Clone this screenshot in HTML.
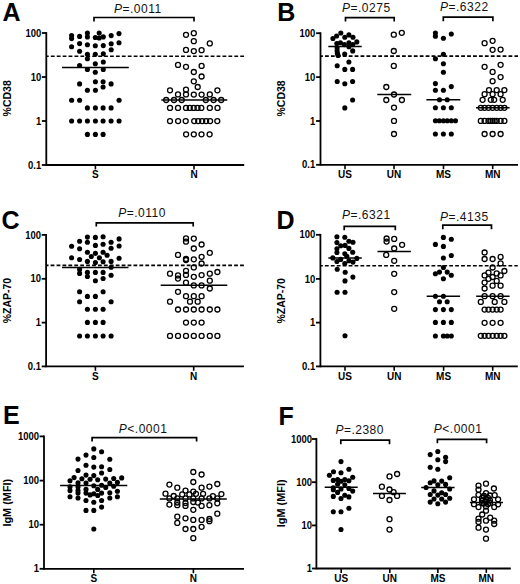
<!DOCTYPE html>
<html><head><meta charset="utf-8"><title>Figure</title>
<style>
html,body{margin:0;padding:0;background:#fff;}
body{width:520px;height:584px;overflow:hidden;}
svg{display:block;}
text{font-family:"Liberation Sans",sans-serif;fill:#000;}
.tk{font-size:10.2px;font-weight:bold;}
.cat{font-size:10px;font-weight:bold;}
.yt{font-size:10.5px;font-weight:bold;}
.lt{font-size:25px;font-weight:bold;}
.pv{font-size:12px;fill:#111;letter-spacing:0.5px;}
line,path{stroke:#000;}
circle{fill:#000;}
circle.o{fill:none;stroke:#000;stroke-width:1.3px;}
</style></head>
<body>
<svg width="520" height="584" viewBox="0 0 520 584">
<rect width="520" height="584" fill="#fff"/>
<line x1="46.3" y1="32.1" x2="46.3" y2="165.9" stroke-width="1.8"/>
<line x1="46.3" y1="165" x2="244.2" y2="165" stroke-width="1.8"/>
<line x1="41.9" y1="33" x2="46.3" y2="33" stroke-width="1.8"/>
<text class="tk" text-anchor="end" transform="translate(41.2,36.6) scale(0.93,1)">100</text>
<line x1="41.9" y1="77" x2="46.3" y2="77" stroke-width="1.8"/>
<text class="tk" text-anchor="end" transform="translate(41.2,80.6) scale(0.93,1)">10</text>
<line x1="41.9" y1="121" x2="46.3" y2="121" stroke-width="1.8"/>
<text class="tk" text-anchor="end" transform="translate(41.2,124.6) scale(0.93,1)">1</text>
<line x1="41.9" y1="165" x2="46.3" y2="165" stroke-width="1.8"/>
<text class="tk" text-anchor="end" transform="translate(41.2,168.6) scale(0.93,1)">0.1</text>
<line x1="95.4" y1="165" x2="95.4" y2="169.4" stroke-width="1.6"/>
<text x="95.4" y="178.2" class="cat" text-anchor="middle">S</text>
<line x1="194" y1="165" x2="194" y2="169.4" stroke-width="1.6"/>
<text x="194" y="178.2" class="cat" text-anchor="middle">N</text>
<text class="yt" text-anchor="middle" transform="translate(11.1,98.3) rotate(-90)">%CD38</text>
<text x="2.6" y="20.9" class="lt">A</text>
<line x1="46.3" y1="56.3" x2="244.2" y2="56.3" stroke-width="1.6" stroke-dasharray="3.8 2.12" stroke-dashoffset="1.4"/>
<path d="M94,21.6V17.5H194V21.6" fill="none" stroke-width="1.7"/>
<text x="114" y="12.8" class="pv"><tspan font-style="italic">P</tspan>=.0011</text>
<circle cx="71.6" cy="35.6" r="2.55"/>
<circle cx="71.6" cy="38.6" r="2.55"/>
<circle cx="71.6" cy="46.7" r="2.55"/>
<circle cx="79.6" cy="36.4" r="2.55"/>
<circle cx="79.6" cy="43.6" r="2.55"/>
<circle cx="79.6" cy="51.3" r="2.55"/>
<circle cx="79.6" cy="65.5" r="2.55"/>
<circle cx="87.4" cy="33" r="2.55"/>
<circle cx="87.4" cy="36.9" r="2.55"/>
<circle cx="87.4" cy="44.7" r="2.55"/>
<circle cx="87.4" cy="54.3" r="2.55"/>
<circle cx="87.4" cy="58.8" r="2.55"/>
<circle cx="87.4" cy="69.5" r="2.55"/>
<circle cx="95.3" cy="37.5" r="2.55"/>
<circle cx="95.3" cy="45.8" r="2.55"/>
<circle cx="95.3" cy="54.3" r="2.55"/>
<circle cx="95.3" cy="63.7" r="2.55"/>
<circle cx="95.3" cy="72.3" r="2.55"/>
<circle cx="99.2" cy="33" r="2.55"/>
<circle cx="99.2" cy="38" r="2.55"/>
<circle cx="103.3" cy="36.9" r="2.55"/>
<circle cx="103.3" cy="45.6" r="2.55"/>
<circle cx="103.3" cy="53.8" r="2.55"/>
<circle cx="103.3" cy="62" r="2.55"/>
<circle cx="103.3" cy="69.5" r="2.55"/>
<circle cx="111.2" cy="35.6" r="2.55"/>
<circle cx="111.2" cy="43.8" r="2.55"/>
<circle cx="111.2" cy="49.7" r="2.55"/>
<circle cx="119" cy="33.6" r="2.55"/>
<circle cx="119" cy="42.7" r="2.55"/>
<circle cx="79.6" cy="83.9" r="2.55"/>
<circle cx="95.4" cy="81.7" r="2.55"/>
<circle cx="103.1" cy="81.7" r="2.55"/>
<circle cx="111.1" cy="83.9" r="2.55"/>
<circle cx="103.1" cy="87" r="2.55"/>
<circle cx="87.4" cy="90.3" r="2.55"/>
<circle cx="95.4" cy="90.3" r="2.55"/>
<circle cx="71.6" cy="100.2" r="2.55"/>
<circle cx="79.6" cy="100.2" r="2.55"/>
<circle cx="119.1" cy="100.2" r="2.55"/>
<circle cx="87.4" cy="107.9" r="2.55"/>
<circle cx="95.4" cy="107.9" r="2.55"/>
<circle cx="103.1" cy="107.9" r="2.55"/>
<circle cx="111.1" cy="107.9" r="2.55"/>
<circle cx="71.6" cy="121" r="2.55"/>
<circle cx="79.6" cy="121" r="2.55"/>
<circle cx="87.4" cy="121" r="2.55"/>
<circle cx="95.4" cy="121" r="2.55"/>
<circle cx="103.1" cy="121" r="2.55"/>
<circle cx="111.1" cy="121" r="2.55"/>
<circle cx="119.1" cy="121" r="2.55"/>
<circle cx="87.4" cy="134.4" r="2.55"/>
<circle cx="95.4" cy="134.4" r="2.55"/>
<circle cx="103.1" cy="134.4" r="2.55"/>
<circle cx="186" cy="34.8" r="2.5" class="o"/>
<circle cx="193.8" cy="33.2" r="2.5" class="o"/>
<circle cx="193.8" cy="41.2" r="2.5" class="o"/>
<circle cx="209.8" cy="43.4" r="2.5" class="o"/>
<circle cx="186" cy="49.9" r="2.5" class="o"/>
<circle cx="193.8" cy="51.1" r="2.5" class="o"/>
<circle cx="201.6" cy="50.2" r="2.5" class="o"/>
<circle cx="178" cy="64.9" r="2.5" class="o"/>
<circle cx="186" cy="66.8" r="2.5" class="o"/>
<circle cx="201.6" cy="65.9" r="2.5" class="o"/>
<circle cx="193.8" cy="72" r="2.5" class="o"/>
<circle cx="201.6" cy="76.5" r="2.5" class="o"/>
<circle cx="193.8" cy="81.3" r="2.5" class="o"/>
<circle cx="197.7" cy="87" r="2.5" class="o"/>
<circle cx="170" cy="90.3" r="2.5" class="o"/>
<circle cx="186" cy="89.7" r="2.5" class="o"/>
<circle cx="217.4" cy="90.3" r="2.5" class="o"/>
<circle cx="178" cy="94.4" r="2.5" class="o"/>
<circle cx="186" cy="94.4" r="2.5" class="o"/>
<circle cx="193.8" cy="94.6" r="2.5" class="o"/>
<circle cx="201.6" cy="94.6" r="2.5" class="o"/>
<circle cx="209.8" cy="94.4" r="2.5" class="o"/>
<circle cx="166.2" cy="100" r="2.5" class="o"/>
<circle cx="174" cy="100" r="2.5" class="o"/>
<circle cx="181.7" cy="100" r="2.5" class="o"/>
<circle cx="205.8" cy="100" r="2.5" class="o"/>
<circle cx="213.6" cy="100" r="2.5" class="o"/>
<circle cx="221.2" cy="100" r="2.5" class="o"/>
<circle cx="170" cy="107.9" r="2.5" class="o"/>
<circle cx="178" cy="107.9" r="2.5" class="o"/>
<circle cx="186" cy="107.9" r="2.5" class="o"/>
<circle cx="189.8" cy="107.9" r="2.5" class="o"/>
<circle cx="193.7" cy="107.9" r="2.5" class="o"/>
<circle cx="197.5" cy="107.9" r="2.5" class="o"/>
<circle cx="201.3" cy="107.9" r="2.5" class="o"/>
<circle cx="209.8" cy="107.9" r="2.5" class="o"/>
<circle cx="217.5" cy="107.9" r="2.5" class="o"/>
<circle cx="170" cy="121.1" r="2.5" class="o"/>
<circle cx="178.1" cy="121.1" r="2.5" class="o"/>
<circle cx="185.7" cy="121.1" r="2.5" class="o"/>
<circle cx="194.2" cy="121.1" r="2.5" class="o"/>
<circle cx="198.2" cy="121.1" r="2.5" class="o"/>
<circle cx="202.2" cy="121.1" r="2.5" class="o"/>
<circle cx="206.1" cy="121.1" r="2.5" class="o"/>
<circle cx="210.1" cy="121.1" r="2.5" class="o"/>
<circle cx="217.3" cy="121.1" r="2.5" class="o"/>
<circle cx="186.1" cy="134.3" r="2.5" class="o"/>
<circle cx="193.8" cy="134.3" r="2.5" class="o"/>
<circle cx="201.5" cy="134.3" r="2.5" class="o"/>
<circle cx="209.6" cy="134.3" r="2.5" class="o"/>
<line x1="62" y1="67.5" x2="128.8" y2="67.5" stroke-width="1.5"/>
<line x1="161.3" y1="100" x2="227.3" y2="100" stroke-width="1.5"/>
<line x1="320.5" y1="32.3" x2="320.5" y2="165.7" stroke-width="1.8"/>
<line x1="320.5" y1="164.8" x2="518" y2="164.8" stroke-width="1.8"/>
<line x1="316.1" y1="33.2" x2="320.5" y2="33.2" stroke-width="1.8"/>
<text class="tk" text-anchor="end" transform="translate(315.2,36.8) scale(0.93,1)">100</text>
<line x1="316.1" y1="77.1" x2="320.5" y2="77.1" stroke-width="1.8"/>
<text class="tk" text-anchor="end" transform="translate(315.2,80.7) scale(0.93,1)">10</text>
<line x1="316.1" y1="121" x2="320.5" y2="121" stroke-width="1.8"/>
<text class="tk" text-anchor="end" transform="translate(315.2,124.6) scale(0.93,1)">1</text>
<line x1="316.1" y1="164.8" x2="320.5" y2="164.8" stroke-width="1.8"/>
<text class="tk" text-anchor="end" transform="translate(315.2,168.4) scale(0.93,1)">0.1</text>
<line x1="345" y1="164.8" x2="345" y2="169.2" stroke-width="1.6"/>
<text x="345" y="178" class="cat" text-anchor="middle">US</text>
<line x1="394" y1="164.8" x2="394" y2="169.2" stroke-width="1.6"/>
<text x="394" y="178" class="cat" text-anchor="middle">UN</text>
<line x1="443.5" y1="164.8" x2="443.5" y2="169.2" stroke-width="1.6"/>
<text x="443.5" y="178" class="cat" text-anchor="middle">MS</text>
<line x1="492.7" y1="164.8" x2="492.7" y2="169.2" stroke-width="1.6"/>
<text x="492.7" y="178" class="cat" text-anchor="middle">MN</text>
<text class="yt" text-anchor="middle" transform="translate(285.3,98.4) rotate(-90)">%CD38</text>
<text x="277.2" y="20.8" class="lt">B</text>
<line x1="320.5" y1="56.1" x2="518" y2="56.1" stroke-width="1.6" stroke-dasharray="3.8 2.12" stroke-dashoffset="1.4"/>
<path d="M345.5,21.6V17.6H394.2V21.6" fill="none" stroke-width="1.7"/>
<text x="342" y="11.6" class="pv"><tspan font-style="italic">P</tspan>=.0275</text>
<path d="M443.3,21.2V17.2H492.9V21.2" fill="none" stroke-width="1.7"/>
<text x="440" y="11.4" class="pv"><tspan font-style="italic">P</tspan>=.6322</text>
<circle cx="332.9" cy="38.5" r="2.55"/>
<circle cx="336.6" cy="36" r="2.55"/>
<circle cx="340.8" cy="33" r="2.55"/>
<circle cx="344.8" cy="37.3" r="2.55"/>
<circle cx="348.9" cy="34.9" r="2.55"/>
<circle cx="353" cy="37.3" r="2.55"/>
<circle cx="356.8" cy="41.9" r="2.55"/>
<circle cx="336.8" cy="43.6" r="2.55"/>
<circle cx="340.4" cy="42.8" r="2.55"/>
<circle cx="344.4" cy="44.6" r="2.55"/>
<circle cx="348.9" cy="42.9" r="2.55"/>
<circle cx="348.9" cy="46.7" r="2.55"/>
<circle cx="352.8" cy="44.6" r="2.55"/>
<circle cx="337.1" cy="48.1" r="2.55"/>
<circle cx="337.1" cy="50.9" r="2.55"/>
<circle cx="337.4" cy="53.4" r="2.55"/>
<circle cx="338.1" cy="55.4" r="2.55"/>
<circle cx="344.7" cy="54.1" r="2.55"/>
<circle cx="352.7" cy="50.9" r="2.55"/>
<circle cx="348.9" cy="62" r="2.55"/>
<circle cx="337.2" cy="65.8" r="2.55"/>
<circle cx="344.8" cy="69.4" r="2.55"/>
<circle cx="352.6" cy="69.4" r="2.55"/>
<circle cx="337.2" cy="81.5" r="2.55"/>
<circle cx="344.8" cy="83.8" r="2.55"/>
<circle cx="352.6" cy="81.5" r="2.55"/>
<circle cx="352.6" cy="100" r="2.55"/>
<circle cx="344.8" cy="107.9" r="2.55"/>
<circle cx="393.8" cy="34.7" r="2.5" class="o"/>
<circle cx="401.8" cy="32.8" r="2.5" class="o"/>
<circle cx="393.8" cy="51" r="2.5" class="o"/>
<circle cx="393.8" cy="65.9" r="2.5" class="o"/>
<circle cx="386.3" cy="87" r="2.5" class="o"/>
<circle cx="394" cy="94.5" r="2.5" class="o"/>
<circle cx="386.3" cy="100" r="2.5" class="o"/>
<circle cx="401.9" cy="100" r="2.5" class="o"/>
<circle cx="394" cy="107.6" r="2.5" class="o"/>
<circle cx="394" cy="120.9" r="2.5" class="o"/>
<circle cx="394" cy="134" r="2.5" class="o"/>
<circle cx="435.4" cy="33.1" r="2.55"/>
<circle cx="435.4" cy="36.2" r="2.55"/>
<circle cx="443.4" cy="38.3" r="2.55"/>
<circle cx="451.3" cy="34" r="2.55"/>
<circle cx="443.4" cy="54.2" r="2.55"/>
<circle cx="435.4" cy="58.8" r="2.55"/>
<circle cx="443.4" cy="63.8" r="2.55"/>
<circle cx="443.4" cy="72.2" r="2.55"/>
<circle cx="435.4" cy="83.6" r="2.55"/>
<circle cx="451.3" cy="86.6" r="2.55"/>
<circle cx="435.4" cy="90.3" r="2.55"/>
<circle cx="443.4" cy="90.3" r="2.55"/>
<circle cx="439.5" cy="99.8" r="2.55"/>
<circle cx="447.2" cy="99.8" r="2.55"/>
<circle cx="435.4" cy="107.8" r="2.55"/>
<circle cx="443.4" cy="107.8" r="2.55"/>
<circle cx="451.3" cy="107.8" r="2.55"/>
<circle cx="435.4" cy="120.7" r="2.55"/>
<circle cx="439.3" cy="120.7" r="2.55"/>
<circle cx="443.4" cy="120.7" r="2.55"/>
<circle cx="447.2" cy="120.7" r="2.55"/>
<circle cx="451.3" cy="120.7" r="2.55"/>
<circle cx="455.5" cy="120.7" r="2.55"/>
<circle cx="435.4" cy="134" r="2.55"/>
<circle cx="443.4" cy="134" r="2.55"/>
<circle cx="451.3" cy="134" r="2.55"/>
<circle cx="484.6" cy="43.2" r="2.5" class="o"/>
<circle cx="492.6" cy="40.8" r="2.5" class="o"/>
<circle cx="492.6" cy="49.8" r="2.5" class="o"/>
<circle cx="500.6" cy="49.6" r="2.5" class="o"/>
<circle cx="484.6" cy="66.8" r="2.5" class="o"/>
<circle cx="500.6" cy="64.8" r="2.5" class="o"/>
<circle cx="492.6" cy="71.9" r="2.5" class="o"/>
<circle cx="500.6" cy="77.1" r="2.5" class="o"/>
<circle cx="492.6" cy="81.2" r="2.5" class="o"/>
<circle cx="489" cy="90.1" r="2.5" class="o"/>
<circle cx="496.7" cy="90.1" r="2.5" class="o"/>
<circle cx="504.4" cy="90.1" r="2.5" class="o"/>
<circle cx="484.6" cy="94.2" r="2.5" class="o"/>
<circle cx="492.6" cy="94.2" r="2.5" class="o"/>
<circle cx="500.6" cy="94.2" r="2.5" class="o"/>
<circle cx="482.6" cy="99.8" r="2.5" class="o"/>
<circle cx="490.8" cy="99.8" r="2.5" class="o"/>
<circle cx="494.2" cy="99.8" r="2.5" class="o"/>
<circle cx="502.7" cy="99.8" r="2.5" class="o"/>
<circle cx="480.8" cy="107.8" r="2.5" class="o"/>
<circle cx="484.6" cy="107.8" r="2.5" class="o"/>
<circle cx="488.5" cy="107.8" r="2.5" class="o"/>
<circle cx="492.6" cy="107.8" r="2.5" class="o"/>
<circle cx="496.7" cy="107.8" r="2.5" class="o"/>
<circle cx="500.6" cy="107.8" r="2.5" class="o"/>
<circle cx="504.4" cy="107.8" r="2.5" class="o"/>
<circle cx="480.8" cy="120.9" r="2.5" class="o"/>
<circle cx="484.6" cy="120.9" r="2.5" class="o"/>
<circle cx="488.5" cy="120.9" r="2.5" class="o"/>
<circle cx="490.6" cy="120.9" r="2.5" class="o"/>
<circle cx="492.6" cy="120.9" r="2.5" class="o"/>
<circle cx="494.6" cy="120.9" r="2.5" class="o"/>
<circle cx="496.7" cy="120.9" r="2.5" class="o"/>
<circle cx="500.6" cy="120.9" r="2.5" class="o"/>
<circle cx="504.4" cy="120.9" r="2.5" class="o"/>
<circle cx="484.6" cy="134" r="2.5" class="o"/>
<circle cx="492.6" cy="134" r="2.5" class="o"/>
<circle cx="500.6" cy="134" r="2.5" class="o"/>
<line x1="328.3" y1="46.6" x2="361.7" y2="46.6" stroke-width="1.5"/>
<line x1="377.3" y1="94.4" x2="411.2" y2="94.4" stroke-width="1.5"/>
<line x1="426.4" y1="99.8" x2="460.3" y2="99.8" stroke-width="1.5"/>
<line x1="476" y1="107.8" x2="509.6" y2="107.8" stroke-width="1.5"/>
<line x1="46.1" y1="234" x2="46.1" y2="367.3" stroke-width="1.8"/>
<line x1="46.1" y1="366.4" x2="243.9" y2="366.4" stroke-width="1.8"/>
<line x1="41.7" y1="234.9" x2="46.1" y2="234.9" stroke-width="1.8"/>
<text class="tk" text-anchor="end" transform="translate(41,238.5) scale(0.93,1)">100</text>
<line x1="41.7" y1="278.8" x2="46.1" y2="278.8" stroke-width="1.8"/>
<text class="tk" text-anchor="end" transform="translate(41,282.4) scale(0.93,1)">10</text>
<line x1="41.7" y1="322.6" x2="46.1" y2="322.6" stroke-width="1.8"/>
<text class="tk" text-anchor="end" transform="translate(41,326.2) scale(0.93,1)">1</text>
<line x1="41.7" y1="366.4" x2="46.1" y2="366.4" stroke-width="1.8"/>
<text class="tk" text-anchor="end" transform="translate(41,370) scale(0.93,1)">0.1</text>
<line x1="95.4" y1="366.4" x2="95.4" y2="370.8" stroke-width="1.6"/>
<text x="95.4" y="379.6" class="cat" text-anchor="middle">S</text>
<line x1="193.7" y1="366.4" x2="193.7" y2="370.8" stroke-width="1.6"/>
<text x="193.7" y="379.6" class="cat" text-anchor="middle">N</text>
<text class="yt" text-anchor="middle" transform="translate(11.2,300.6) rotate(-90)">%ZAP-70</text>
<text x="1.6" y="228.7" class="lt">C</text>
<line x1="46.1" y1="265.4" x2="243.9" y2="265.4" stroke-width="1.6" stroke-dasharray="3.8 2.12" stroke-dashoffset="1.4"/>
<path d="M96.3,226.6V222.8H193.2V226.6" fill="none" stroke-width="1.7"/>
<text x="118.2" y="217.4" class="pv"><tspan font-style="italic">P</tspan>=.0110</text>
<circle cx="87.4" cy="237.1" r="2.55"/>
<circle cx="95.4" cy="237.4" r="2.55"/>
<circle cx="103.1" cy="236.8" r="2.55"/>
<circle cx="119.1" cy="238.9" r="2.55"/>
<circle cx="79.6" cy="241.3" r="2.55"/>
<circle cx="87.4" cy="242.3" r="2.55"/>
<circle cx="111.1" cy="242.3" r="2.55"/>
<circle cx="71.6" cy="246.2" r="2.55"/>
<circle cx="95.4" cy="245.4" r="2.55"/>
<circle cx="103.1" cy="244.2" r="2.55"/>
<circle cx="119.1" cy="246" r="2.55"/>
<circle cx="79.6" cy="248.7" r="2.55"/>
<circle cx="111.1" cy="248.2" r="2.55"/>
<circle cx="87.4" cy="252.2" r="2.55"/>
<circle cx="95.4" cy="253.4" r="2.55"/>
<circle cx="103.1" cy="252.2" r="2.55"/>
<circle cx="91.3" cy="256.5" r="2.55"/>
<circle cx="99.4" cy="257.7" r="2.55"/>
<circle cx="107.1" cy="255.2" r="2.55"/>
<circle cx="71.6" cy="257.7" r="2.55"/>
<circle cx="79.6" cy="259.5" r="2.55"/>
<circle cx="87.4" cy="261.4" r="2.55"/>
<circle cx="95.4" cy="262.6" r="2.55"/>
<circle cx="103.1" cy="261.8" r="2.55"/>
<circle cx="111.1" cy="261.4" r="2.55"/>
<circle cx="119.1" cy="258.3" r="2.55"/>
<circle cx="111.1" cy="267.2" r="2.55"/>
<circle cx="79.6" cy="269.4" r="2.55"/>
<circle cx="79.6" cy="273.4" r="2.55"/>
<circle cx="87.4" cy="272.4" r="2.55"/>
<circle cx="87.4" cy="276.5" r="2.55"/>
<circle cx="95.4" cy="272.4" r="2.55"/>
<circle cx="103.1" cy="272.4" r="2.55"/>
<circle cx="111.1" cy="275.2" r="2.55"/>
<circle cx="95.4" cy="280.8" r="2.55"/>
<circle cx="103.1" cy="278.5" r="2.55"/>
<circle cx="79.6" cy="291.8" r="2.55"/>
<circle cx="103.1" cy="291.8" r="2.55"/>
<circle cx="87.4" cy="296.4" r="2.55"/>
<circle cx="95.4" cy="296.4" r="2.55"/>
<circle cx="79.6" cy="301.7" r="2.55"/>
<circle cx="111.1" cy="301.7" r="2.55"/>
<circle cx="87.4" cy="309.3" r="2.55"/>
<circle cx="95.4" cy="309.3" r="2.55"/>
<circle cx="103.1" cy="309.3" r="2.55"/>
<circle cx="87.4" cy="322.4" r="2.55"/>
<circle cx="95.4" cy="322.4" r="2.55"/>
<circle cx="103.1" cy="322.4" r="2.55"/>
<circle cx="79.6" cy="336" r="2.55"/>
<circle cx="87.4" cy="336" r="2.55"/>
<circle cx="95.4" cy="336" r="2.55"/>
<circle cx="103.1" cy="336" r="2.55"/>
<circle cx="111.1" cy="336" r="2.55"/>
<circle cx="186" cy="238.4" r="2.5" class="o"/>
<circle cx="186" cy="241.7" r="2.5" class="o"/>
<circle cx="193.8" cy="238.6" r="2.5" class="o"/>
<circle cx="201.6" cy="244.5" r="2.5" class="o"/>
<circle cx="193.8" cy="248.5" r="2.5" class="o"/>
<circle cx="209.8" cy="252.8" r="2.5" class="o"/>
<circle cx="178" cy="254.9" r="2.5" class="o"/>
<circle cx="186" cy="258.9" r="2.5" class="o"/>
<circle cx="186" cy="260" r="2.5" class="o"/>
<circle cx="193.8" cy="259.3" r="2.5" class="o"/>
<circle cx="201.6" cy="256.8" r="2.5" class="o"/>
<circle cx="201.6" cy="263.5" r="2.5" class="o"/>
<circle cx="193.8" cy="267.4" r="2.5" class="o"/>
<circle cx="186" cy="270.8" r="2.5" class="o"/>
<circle cx="170" cy="273.7" r="2.5" class="o"/>
<circle cx="178" cy="275.4" r="2.5" class="o"/>
<circle cx="178" cy="278.6" r="2.5" class="o"/>
<circle cx="186" cy="274.9" r="2.5" class="o"/>
<circle cx="193.8" cy="276.8" r="2.5" class="o"/>
<circle cx="201.6" cy="275.1" r="2.5" class="o"/>
<circle cx="209.8" cy="273.7" r="2.5" class="o"/>
<circle cx="217.4" cy="272" r="2.5" class="o"/>
<circle cx="186" cy="282.7" r="2.5" class="o"/>
<circle cx="209.8" cy="280.7" r="2.5" class="o"/>
<circle cx="193.8" cy="285.4" r="2.5" class="o"/>
<circle cx="201.6" cy="285.4" r="2.5" class="o"/>
<circle cx="209.8" cy="288.5" r="2.5" class="o"/>
<circle cx="178" cy="291.8" r="2.5" class="o"/>
<circle cx="186" cy="296.2" r="2.5" class="o"/>
<circle cx="193.8" cy="296.2" r="2.5" class="o"/>
<circle cx="201.6" cy="296.2" r="2.5" class="o"/>
<circle cx="170" cy="301.7" r="2.5" class="o"/>
<circle cx="190" cy="301.7" r="2.5" class="o"/>
<circle cx="197.7" cy="301.7" r="2.5" class="o"/>
<circle cx="178" cy="309.5" r="2.5" class="o"/>
<circle cx="186" cy="309.5" r="2.5" class="o"/>
<circle cx="193.8" cy="309.5" r="2.5" class="o"/>
<circle cx="201.6" cy="309.5" r="2.5" class="o"/>
<circle cx="209.8" cy="309.5" r="2.5" class="o"/>
<circle cx="217.4" cy="309.5" r="2.5" class="o"/>
<circle cx="186" cy="322.6" r="2.5" class="o"/>
<circle cx="193.8" cy="322.6" r="2.5" class="o"/>
<circle cx="201.6" cy="322.6" r="2.5" class="o"/>
<circle cx="170" cy="335.9" r="2.5" class="o"/>
<circle cx="178" cy="335.9" r="2.5" class="o"/>
<circle cx="186" cy="335.9" r="2.5" class="o"/>
<circle cx="193.8" cy="335.9" r="2.5" class="o"/>
<circle cx="201.6" cy="335.9" r="2.5" class="o"/>
<circle cx="209.8" cy="335.9" r="2.5" class="o"/>
<circle cx="217.4" cy="335.9" r="2.5" class="o"/>
<line x1="62" y1="267.4" x2="128.5" y2="267.4" stroke-width="1.5"/>
<line x1="160.7" y1="285.3" x2="227.3" y2="285.3" stroke-width="1.5"/>
<line x1="320.4" y1="233.9" x2="320.4" y2="367.3" stroke-width="1.8"/>
<line x1="320.4" y1="366.4" x2="517.8" y2="366.4" stroke-width="1.8"/>
<line x1="316" y1="234.8" x2="320.4" y2="234.8" stroke-width="1.8"/>
<text class="tk" text-anchor="end" transform="translate(315.2,238.4) scale(0.93,1)">100</text>
<line x1="316" y1="278.9" x2="320.4" y2="278.9" stroke-width="1.8"/>
<text class="tk" text-anchor="end" transform="translate(315.2,282.5) scale(0.93,1)">10</text>
<line x1="316" y1="322.6" x2="320.4" y2="322.6" stroke-width="1.8"/>
<text class="tk" text-anchor="end" transform="translate(315.2,326.2) scale(0.93,1)">1</text>
<line x1="316" y1="366.4" x2="320.4" y2="366.4" stroke-width="1.8"/>
<text class="tk" text-anchor="end" transform="translate(315.2,370) scale(0.93,1)">0.1</text>
<line x1="345" y1="366.4" x2="345" y2="370.8" stroke-width="1.6"/>
<text x="345" y="379.6" class="cat" text-anchor="middle">US</text>
<line x1="394.2" y1="366.4" x2="394.2" y2="370.8" stroke-width="1.6"/>
<text x="394.2" y="379.6" class="cat" text-anchor="middle">UN</text>
<line x1="443.6" y1="366.4" x2="443.6" y2="370.8" stroke-width="1.6"/>
<text x="443.6" y="379.6" class="cat" text-anchor="middle">MS</text>
<line x1="492.7" y1="366.4" x2="492.7" y2="370.8" stroke-width="1.6"/>
<text x="492.7" y="379.6" class="cat" text-anchor="middle">MN</text>
<text class="yt" text-anchor="middle" transform="translate(285.3,300.8) rotate(-90)">%ZAP-70</text>
<text x="276.6" y="228.6" class="lt">D</text>
<line x1="320.4" y1="265.7" x2="517.8" y2="265.7" stroke-width="1.6" stroke-dasharray="3.8 2.12" stroke-dashoffset="1.4"/>
<path d="M344.2,230.2V226.4H395.3V230.2" fill="none" stroke-width="1.7"/>
<text x="342" y="219.4" class="pv"><tspan font-style="italic">P</tspan>=.6321</text>
<path d="M442.8,229.2V225.2H491.5V229.2" fill="none" stroke-width="1.7"/>
<text x="440" y="220.7" class="pv"><tspan font-style="italic">P</tspan>=.4135</text>
<circle cx="336.9" cy="236.8" r="2.55"/>
<circle cx="344.8" cy="237.3" r="2.55"/>
<circle cx="336.9" cy="242.6" r="2.55"/>
<circle cx="348.9" cy="241.2" r="2.55"/>
<circle cx="353" cy="242.3" r="2.55"/>
<circle cx="340.7" cy="245.7" r="2.55"/>
<circle cx="345.1" cy="245.4" r="2.55"/>
<circle cx="336.9" cy="248.8" r="2.55"/>
<circle cx="348.9" cy="248.4" r="2.55"/>
<circle cx="336.9" cy="252.5" r="2.55"/>
<circle cx="352.7" cy="252.2" r="2.55"/>
<circle cx="344.8" cy="253.8" r="2.55"/>
<circle cx="346.8" cy="256.3" r="2.55"/>
<circle cx="332.8" cy="257.9" r="2.55"/>
<circle cx="356.8" cy="258.4" r="2.55"/>
<circle cx="340.7" cy="259.4" r="2.55"/>
<circle cx="336.9" cy="261.5" r="2.55"/>
<circle cx="344.8" cy="263.5" r="2.55"/>
<circle cx="348.9" cy="260.8" r="2.55"/>
<circle cx="353" cy="262.1" r="2.55"/>
<circle cx="337.2" cy="269.3" r="2.55"/>
<circle cx="345.2" cy="272.2" r="2.55"/>
<circle cx="352.9" cy="277.1" r="2.55"/>
<circle cx="345" cy="280.9" r="2.55"/>
<circle cx="337.1" cy="292.2" r="2.55"/>
<circle cx="345" cy="292.2" r="2.55"/>
<circle cx="345" cy="335.7" r="2.55"/>
<circle cx="386.6" cy="238.5" r="2.5" class="o"/>
<circle cx="386.6" cy="241.6" r="2.5" class="o"/>
<circle cx="394.2" cy="238.9" r="2.5" class="o"/>
<circle cx="402.1" cy="244.8" r="2.5" class="o"/>
<circle cx="394.2" cy="248.5" r="2.5" class="o"/>
<circle cx="386.2" cy="254.9" r="2.5" class="o"/>
<circle cx="394.2" cy="260.8" r="2.5" class="o"/>
<circle cx="394.2" cy="273.8" r="2.5" class="o"/>
<circle cx="394.2" cy="292.1" r="2.5" class="o"/>
<circle cx="394.2" cy="308.8" r="2.5" class="o"/>
<circle cx="443.4" cy="237.4" r="2.55"/>
<circle cx="451.3" cy="239.2" r="2.55"/>
<circle cx="435.4" cy="244.4" r="2.55"/>
<circle cx="443.4" cy="246.4" r="2.55"/>
<circle cx="451.3" cy="255.5" r="2.55"/>
<circle cx="443.4" cy="258" r="2.55"/>
<circle cx="443.4" cy="267.5" r="2.55"/>
<circle cx="435.4" cy="273.7" r="2.55"/>
<circle cx="439.5" cy="272.1" r="2.55"/>
<circle cx="447.2" cy="272.1" r="2.55"/>
<circle cx="451.3" cy="275.2" r="2.55"/>
<circle cx="443.4" cy="278.8" r="2.55"/>
<circle cx="435.4" cy="296.2" r="2.55"/>
<circle cx="443.4" cy="296.2" r="2.55"/>
<circle cx="439.5" cy="301.8" r="2.55"/>
<circle cx="447.2" cy="301.8" r="2.55"/>
<circle cx="435.4" cy="309.6" r="2.55"/>
<circle cx="443.4" cy="309.6" r="2.55"/>
<circle cx="451.3" cy="309.6" r="2.55"/>
<circle cx="435.4" cy="322.4" r="2.55"/>
<circle cx="443.4" cy="322.4" r="2.55"/>
<circle cx="451.3" cy="322.4" r="2.55"/>
<circle cx="435.4" cy="336" r="2.55"/>
<circle cx="443.4" cy="336" r="2.55"/>
<circle cx="447.2" cy="336" r="2.55"/>
<circle cx="451.3" cy="336" r="2.55"/>
<circle cx="484.6" cy="252.5" r="2.5" class="o"/>
<circle cx="484.6" cy="259" r="2.5" class="o"/>
<circle cx="492.6" cy="259" r="2.5" class="o"/>
<circle cx="500.6" cy="256.9" r="2.5" class="o"/>
<circle cx="500.6" cy="263.4" r="2.5" class="o"/>
<circle cx="492.6" cy="267.5" r="2.5" class="o"/>
<circle cx="504.4" cy="271" r="2.5" class="o"/>
<circle cx="488.5" cy="272.6" r="2.5" class="o"/>
<circle cx="496.7" cy="273.4" r="2.5" class="o"/>
<circle cx="484.6" cy="275.4" r="2.5" class="o"/>
<circle cx="500.6" cy="275.4" r="2.5" class="o"/>
<circle cx="492.6" cy="277" r="2.5" class="o"/>
<circle cx="488.5" cy="278.8" r="2.5" class="o"/>
<circle cx="496.7" cy="280.9" r="2.5" class="o"/>
<circle cx="484.6" cy="282.6" r="2.5" class="o"/>
<circle cx="492.6" cy="285.7" r="2.5" class="o"/>
<circle cx="500.6" cy="285.7" r="2.5" class="o"/>
<circle cx="484.6" cy="288.5" r="2.5" class="o"/>
<circle cx="484.6" cy="296.2" r="2.5" class="o"/>
<circle cx="492.6" cy="296.2" r="2.5" class="o"/>
<circle cx="500.6" cy="296.2" r="2.5" class="o"/>
<circle cx="480.8" cy="301.9" r="2.5" class="o"/>
<circle cx="494.7" cy="301.9" r="2.5" class="o"/>
<circle cx="504.4" cy="301.9" r="2.5" class="o"/>
<circle cx="484.6" cy="309.6" r="2.5" class="o"/>
<circle cx="488.5" cy="309.6" r="2.5" class="o"/>
<circle cx="492.6" cy="309.6" r="2.5" class="o"/>
<circle cx="496.7" cy="309.6" r="2.5" class="o"/>
<circle cx="500.6" cy="309.6" r="2.5" class="o"/>
<circle cx="484.6" cy="322.8" r="2.5" class="o"/>
<circle cx="492.6" cy="322.8" r="2.5" class="o"/>
<circle cx="500.6" cy="322.8" r="2.5" class="o"/>
<circle cx="480.8" cy="335.8" r="2.5" class="o"/>
<circle cx="484.6" cy="335.8" r="2.5" class="o"/>
<circle cx="488.5" cy="335.8" r="2.5" class="o"/>
<circle cx="492.6" cy="335.8" r="2.5" class="o"/>
<circle cx="496.7" cy="335.8" r="2.5" class="o"/>
<circle cx="500.6" cy="335.8" r="2.5" class="o"/>
<circle cx="504.4" cy="335.8" r="2.5" class="o"/>
<line x1="328.3" y1="257.9" x2="361.8" y2="257.9" stroke-width="1.5"/>
<line x1="377.5" y1="251.5" x2="410.9" y2="251.5" stroke-width="1.5"/>
<line x1="426.7" y1="296.2" x2="460.1" y2="296.2" stroke-width="1.5"/>
<line x1="476.2" y1="296.2" x2="509.6" y2="296.2" stroke-width="1.5"/>
<line x1="44" y1="435.5" x2="44" y2="569.7" stroke-width="1.8"/>
<line x1="44" y1="568.8" x2="244" y2="568.8" stroke-width="1.8"/>
<line x1="39.6" y1="436.4" x2="44" y2="436.4" stroke-width="1.8"/>
<text class="tk" text-anchor="end" transform="translate(39,440) scale(0.93,1)">1000</text>
<line x1="39.6" y1="480.6" x2="44" y2="480.6" stroke-width="1.8"/>
<text class="tk" text-anchor="end" transform="translate(39,484.2) scale(0.93,1)">100</text>
<line x1="39.6" y1="524.7" x2="44" y2="524.7" stroke-width="1.8"/>
<text class="tk" text-anchor="end" transform="translate(39,528.3) scale(0.93,1)">10</text>
<line x1="39.6" y1="568.8" x2="44" y2="568.8" stroke-width="1.8"/>
<text class="tk" text-anchor="end" transform="translate(39,572.4) scale(0.93,1)">1</text>
<line x1="93.8" y1="568.8" x2="93.8" y2="573.2" stroke-width="1.6"/>
<text x="93.8" y="582.4" class="cat" text-anchor="middle">S</text>
<line x1="193.4" y1="568.8" x2="193.4" y2="573.2" stroke-width="1.6"/>
<text x="193.4" y="582.4" class="cat" text-anchor="middle">N</text>
<text class="yt" text-anchor="middle" style="font-size:10.9px" transform="translate(11.4,502.7) rotate(-90)">IgM (MFI)</text>
<text x="3" y="423.6" class="lt">E</text>
<path d="M92.1,441.5V437.7H196.6V441.5" fill="none" stroke-width="1.7"/>
<text x="118.8" y="433.3" class="pv"><tspan font-style="italic">P</tspan>&lt;.0001</text>
<circle cx="93.8" cy="448.9" r="2.55"/>
<circle cx="101.6" cy="451.8" r="2.55"/>
<circle cx="86" cy="455.1" r="2.55"/>
<circle cx="93.8" cy="457.5" r="2.55"/>
<circle cx="78" cy="459.1" r="2.55"/>
<circle cx="109.8" cy="459.2" r="2.55"/>
<circle cx="86" cy="465.2" r="2.55"/>
<circle cx="93.8" cy="467.1" r="2.55"/>
<circle cx="101.6" cy="466.8" r="2.55"/>
<circle cx="78" cy="470.5" r="2.55"/>
<circle cx="109.8" cy="469.5" r="2.55"/>
<circle cx="101.6" cy="473" r="2.55"/>
<circle cx="86" cy="475.1" r="2.55"/>
<circle cx="93.8" cy="475.6" r="2.55"/>
<circle cx="74.1" cy="477.6" r="2.55"/>
<circle cx="81.9" cy="478.8" r="2.55"/>
<circle cx="90.1" cy="479.3" r="2.55"/>
<circle cx="97.7" cy="479.7" r="2.55"/>
<circle cx="105.7" cy="479.1" r="2.55"/>
<circle cx="113.7" cy="478.5" r="2.55"/>
<circle cx="121.7" cy="477.9" r="2.55"/>
<circle cx="70" cy="480.7" r="2.55"/>
<circle cx="78" cy="482.9" r="2.55"/>
<circle cx="86" cy="483.1" r="2.55"/>
<circle cx="109.8" cy="483" r="2.55"/>
<circle cx="117.4" cy="482.4" r="2.55"/>
<circle cx="93.8" cy="485.7" r="2.55"/>
<circle cx="101.6" cy="485.3" r="2.55"/>
<circle cx="105.7" cy="487.5" r="2.55"/>
<circle cx="113.7" cy="486.3" r="2.55"/>
<circle cx="70" cy="486.9" r="2.55"/>
<circle cx="78" cy="486.9" r="2.55"/>
<circle cx="70" cy="490.6" r="2.55"/>
<circle cx="78" cy="490.6" r="2.55"/>
<circle cx="86" cy="489.4" r="2.55"/>
<circle cx="97.7" cy="489.4" r="2.55"/>
<circle cx="117.4" cy="491.2" r="2.55"/>
<circle cx="78" cy="493.1" r="2.55"/>
<circle cx="86" cy="493.1" r="2.55"/>
<circle cx="90.1" cy="494.9" r="2.55"/>
<circle cx="93.8" cy="493.7" r="2.55"/>
<circle cx="97.7" cy="495.5" r="2.55"/>
<circle cx="101.6" cy="493.1" r="2.55"/>
<circle cx="109.8" cy="492.7" r="2.55"/>
<circle cx="70" cy="496.8" r="2.55"/>
<circle cx="78" cy="498" r="2.55"/>
<circle cx="109.8" cy="498" r="2.55"/>
<circle cx="117.4" cy="496.8" r="2.55"/>
<circle cx="86" cy="500.5" r="2.55"/>
<circle cx="93.8" cy="502.3" r="2.55"/>
<circle cx="101.6" cy="500.5" r="2.55"/>
<circle cx="101.6" cy="507.1" r="2.55"/>
<circle cx="86" cy="510.4" r="2.55"/>
<circle cx="93.8" cy="510.4" r="2.55"/>
<circle cx="93.8" cy="529" r="2.55"/>
<circle cx="193.3" cy="472" r="2.5" class="o"/>
<circle cx="201.6" cy="474.5" r="2.5" class="o"/>
<circle cx="193.3" cy="482" r="2.5" class="o"/>
<circle cx="169.4" cy="484.6" r="2.5" class="o"/>
<circle cx="217.3" cy="484" r="2.5" class="o"/>
<circle cx="177.3" cy="487.7" r="2.5" class="o"/>
<circle cx="201.6" cy="487.7" r="2.5" class="o"/>
<circle cx="209.4" cy="486.6" r="2.5" class="o"/>
<circle cx="185.5" cy="490.6" r="2.5" class="o"/>
<circle cx="193.3" cy="491.6" r="2.5" class="o"/>
<circle cx="165.5" cy="493.7" r="2.5" class="o"/>
<circle cx="221.4" cy="494.1" r="2.5" class="o"/>
<circle cx="173.7" cy="496" r="2.5" class="o"/>
<circle cx="182.2" cy="494.4" r="2.5" class="o"/>
<circle cx="189.4" cy="494.4" r="2.5" class="o"/>
<circle cx="196" cy="493.8" r="2.5" class="o"/>
<circle cx="203.1" cy="493.8" r="2.5" class="o"/>
<circle cx="212.9" cy="496.2" r="2.5" class="o"/>
<circle cx="169.4" cy="498.4" r="2.5" class="o"/>
<circle cx="177.3" cy="498.4" r="2.5" class="o"/>
<circle cx="185.5" cy="498.4" r="2.5" class="o"/>
<circle cx="193.3" cy="498.4" r="2.5" class="o"/>
<circle cx="201.6" cy="498.4" r="2.5" class="o"/>
<circle cx="209.4" cy="498.4" r="2.5" class="o"/>
<circle cx="217.3" cy="498.4" r="2.5" class="o"/>
<circle cx="169.4" cy="504.6" r="2.5" class="o"/>
<circle cx="177.3" cy="502.5" r="2.5" class="o"/>
<circle cx="177.3" cy="505.2" r="2.5" class="o"/>
<circle cx="185.5" cy="503" r="2.5" class="o"/>
<circle cx="185.5" cy="505.9" r="2.5" class="o"/>
<circle cx="193.3" cy="502" r="2.5" class="o"/>
<circle cx="197.9" cy="502.6" r="2.5" class="o"/>
<circle cx="201.6" cy="505.9" r="2.5" class="o"/>
<circle cx="209.4" cy="505.2" r="2.5" class="o"/>
<circle cx="217.3" cy="503.3" r="2.5" class="o"/>
<circle cx="193.3" cy="509.8" r="2.5" class="o"/>
<circle cx="217.3" cy="513.7" r="2.5" class="o"/>
<circle cx="177.3" cy="516.7" r="2.5" class="o"/>
<circle cx="177.3" cy="522.9" r="2.5" class="o"/>
<circle cx="185.5" cy="518.3" r="2.5" class="o"/>
<circle cx="193.3" cy="519.9" r="2.5" class="o"/>
<circle cx="201.6" cy="519.9" r="2.5" class="o"/>
<circle cx="209.4" cy="519" r="2.5" class="o"/>
<circle cx="209.4" cy="521.2" r="2.5" class="o"/>
<circle cx="185.5" cy="529" r="2.5" class="o"/>
<circle cx="193.3" cy="529" r="2.5" class="o"/>
<circle cx="201.6" cy="526.8" r="2.5" class="o"/>
<circle cx="193.3" cy="538.2" r="2.5" class="o"/>
<line x1="60.1" y1="485.5" x2="127.3" y2="485.5" stroke-width="1.5"/>
<line x1="159.8" y1="499" x2="226.8" y2="499" stroke-width="1.5"/>
<line x1="316.4" y1="438.1" x2="316.4" y2="569.4" stroke-width="1.8"/>
<line x1="316.4" y1="568.5" x2="510.8" y2="568.5" stroke-width="1.8"/>
<line x1="312" y1="439" x2="316.4" y2="439" stroke-width="1.8"/>
<text class="tk" text-anchor="end" transform="translate(312,442.6) scale(0.93,1)">1000</text>
<line x1="312" y1="482.2" x2="316.4" y2="482.2" stroke-width="1.8"/>
<text class="tk" text-anchor="end" transform="translate(312,485.8) scale(0.93,1)">100</text>
<line x1="312" y1="525.4" x2="316.4" y2="525.4" stroke-width="1.8"/>
<text class="tk" text-anchor="end" transform="translate(312,529) scale(0.93,1)">10</text>
<line x1="312" y1="568.5" x2="316.4" y2="568.5" stroke-width="1.8"/>
<text class="tk" text-anchor="end" transform="translate(312,572.1) scale(0.93,1)">1</text>
<line x1="341.2" y1="568.5" x2="341.2" y2="572.9" stroke-width="1.6"/>
<text x="341.2" y="581.6" class="cat" text-anchor="middle">US</text>
<line x1="389.8" y1="568.5" x2="389.8" y2="572.9" stroke-width="1.6"/>
<text x="389.8" y="581.6" class="cat" text-anchor="middle">UN</text>
<line x1="437.9" y1="568.5" x2="437.9" y2="572.9" stroke-width="1.6"/>
<text x="437.9" y="581.6" class="cat" text-anchor="middle">MS</text>
<line x1="486.3" y1="568.5" x2="486.3" y2="572.9" stroke-width="1.6"/>
<text x="486.3" y="581.6" class="cat" text-anchor="middle">MN</text>
<text class="yt" text-anchor="middle" style="font-size:10.9px" transform="translate(285.3,503.3) rotate(-90)">IgM (MFI)</text>
<text x="278.6" y="424.9" class="lt">F</text>
<path d="M340.8,444.2V440.2H389.5V444.2" fill="none" stroke-width="1.7"/>
<text x="335.4" y="434.4" class="pv"><tspan font-style="italic">P</tspan>=.2380</text>
<path d="M437.4,443.3V439.3H486.6V443.3" fill="none" stroke-width="1.7"/>
<text x="433.8" y="432.8" class="pv"><tspan font-style="italic">P</tspan>&lt;.0001</text>
<circle cx="341" cy="461.6" r="2.55"/>
<circle cx="348.9" cy="469.3" r="2.55"/>
<circle cx="333.5" cy="471.8" r="2.55"/>
<circle cx="329.4" cy="475.3" r="2.55"/>
<circle cx="341" cy="472.7" r="2.55"/>
<circle cx="352.7" cy="477.2" r="2.55"/>
<circle cx="333.3" cy="480.4" r="2.55"/>
<circle cx="337.6" cy="479.5" r="2.55"/>
<circle cx="341" cy="481.3" r="2.55"/>
<circle cx="344.8" cy="479.5" r="2.55"/>
<circle cx="348.9" cy="480.8" r="2.55"/>
<circle cx="337.6" cy="484.2" r="2.55"/>
<circle cx="344.8" cy="484.7" r="2.55"/>
<circle cx="333.3" cy="487.7" r="2.55"/>
<circle cx="333.3" cy="489.8" r="2.55"/>
<circle cx="341" cy="489" r="2.55"/>
<circle cx="348.9" cy="488.5" r="2.55"/>
<circle cx="352.7" cy="491.1" r="2.55"/>
<circle cx="337.6" cy="492.4" r="2.55"/>
<circle cx="333.3" cy="496.4" r="2.55"/>
<circle cx="341" cy="498.5" r="2.55"/>
<circle cx="344.8" cy="495.2" r="2.55"/>
<circle cx="348.9" cy="496.9" r="2.55"/>
<circle cx="348.9" cy="508.3" r="2.55"/>
<circle cx="333.3" cy="511.7" r="2.55"/>
<circle cx="341" cy="511.7" r="2.55"/>
<circle cx="341" cy="529.5" r="2.55"/>
<circle cx="389.5" cy="476.4" r="2.5" class="o"/>
<circle cx="397.1" cy="474" r="2.5" class="o"/>
<circle cx="381.9" cy="486.7" r="2.5" class="o"/>
<circle cx="389.5" cy="489.5" r="2.5" class="o"/>
<circle cx="393.6" cy="492.2" r="2.5" class="o"/>
<circle cx="381.9" cy="495.9" r="2.5" class="o"/>
<circle cx="397.1" cy="495.9" r="2.5" class="o"/>
<circle cx="389.5" cy="500" r="2.5" class="o"/>
<circle cx="389.5" cy="519.2" r="2.5" class="o"/>
<circle cx="389.5" cy="529.6" r="2.5" class="o"/>
<circle cx="437.8" cy="451.5" r="2.55"/>
<circle cx="430.2" cy="454.6" r="2.55"/>
<circle cx="437.8" cy="459.7" r="2.55"/>
<circle cx="445.6" cy="457.3" r="2.55"/>
<circle cx="445.6" cy="461.6" r="2.55"/>
<circle cx="430.2" cy="467.2" r="2.55"/>
<circle cx="437.8" cy="469.3" r="2.55"/>
<circle cx="449.7" cy="477.8" r="2.55"/>
<circle cx="430.2" cy="482.7" r="2.55"/>
<circle cx="434" cy="480.9" r="2.55"/>
<circle cx="441.7" cy="481.1" r="2.55"/>
<circle cx="437.8" cy="484.7" r="2.55"/>
<circle cx="445.6" cy="484.4" r="2.55"/>
<circle cx="426.1" cy="487.5" r="2.55"/>
<circle cx="449.7" cy="489" r="2.55"/>
<circle cx="434" cy="490.9" r="2.55"/>
<circle cx="430.2" cy="494.5" r="2.55"/>
<circle cx="437.8" cy="495.1" r="2.55"/>
<circle cx="441.7" cy="492.7" r="2.55"/>
<circle cx="445.6" cy="494.5" r="2.55"/>
<circle cx="449.7" cy="498.3" r="2.55"/>
<circle cx="434" cy="499" r="2.55"/>
<circle cx="441.7" cy="499" r="2.55"/>
<circle cx="430.2" cy="502.1" r="2.55"/>
<circle cx="437.8" cy="503.8" r="2.55"/>
<circle cx="445.6" cy="502.1" r="2.55"/>
<circle cx="486" cy="483.7" r="2.5" class="o"/>
<circle cx="478.5" cy="485.6" r="2.5" class="o"/>
<circle cx="478.5" cy="489.7" r="2.5" class="o"/>
<circle cx="493.9" cy="488.5" r="2.5" class="o"/>
<circle cx="486" cy="493.1" r="2.5" class="o"/>
<circle cx="478.5" cy="494.8" r="2.5" class="o"/>
<circle cx="494.7" cy="495.2" r="2.5" class="o"/>
<circle cx="474" cy="499.3" r="2.5" class="o"/>
<circle cx="482.2" cy="497.9" r="2.5" class="o"/>
<circle cx="488" cy="497.9" r="2.5" class="o"/>
<circle cx="498.1" cy="499.3" r="2.5" class="o"/>
<circle cx="484" cy="496" r="2.5" class="o"/>
<circle cx="490" cy="495.5" r="2.5" class="o"/>
<circle cx="486" cy="499" r="2.5" class="o"/>
<circle cx="482" cy="500.5" r="2.5" class="o"/>
<circle cx="490" cy="500.5" r="2.5" class="o"/>
<circle cx="484" cy="503.5" r="2.5" class="o"/>
<circle cx="488" cy="504" r="2.5" class="o"/>
<circle cx="474" cy="504.2" r="2.5" class="o"/>
<circle cx="478.5" cy="507.1" r="2.5" class="o"/>
<circle cx="482.2" cy="503" r="2.5" class="o"/>
<circle cx="486" cy="501.5" r="2.5" class="o"/>
<circle cx="490" cy="503" r="2.5" class="o"/>
<circle cx="486" cy="506.5" r="2.5" class="o"/>
<circle cx="494.2" cy="507.1" r="2.5" class="o"/>
<circle cx="498.1" cy="504.3" r="2.5" class="o"/>
<circle cx="486" cy="510.7" r="2.5" class="o"/>
<circle cx="482.2" cy="514.5" r="2.5" class="o"/>
<circle cx="478.5" cy="518.7" r="2.5" class="o"/>
<circle cx="478.5" cy="521.9" r="2.5" class="o"/>
<circle cx="490.2" cy="517.7" r="2.5" class="o"/>
<circle cx="486" cy="520.7" r="2.5" class="o"/>
<circle cx="494.2" cy="520.7" r="2.5" class="o"/>
<circle cx="494.2" cy="524" r="2.5" class="o"/>
<circle cx="478.5" cy="527.7" r="2.5" class="o"/>
<circle cx="486" cy="529.6" r="2.5" class="o"/>
<circle cx="486" cy="538.7" r="2.5" class="o"/>
<line x1="324.7" y1="487.2" x2="357.7" y2="487.2" stroke-width="1.5"/>
<line x1="373" y1="493.6" x2="405.9" y2="493.6" stroke-width="1.5"/>
<line x1="421.2" y1="487.5" x2="454.6" y2="487.5" stroke-width="1.5"/>
<line x1="469.9" y1="502.5" x2="502.9" y2="502.5" stroke-width="1.5"/>
</svg>
</body></html>
